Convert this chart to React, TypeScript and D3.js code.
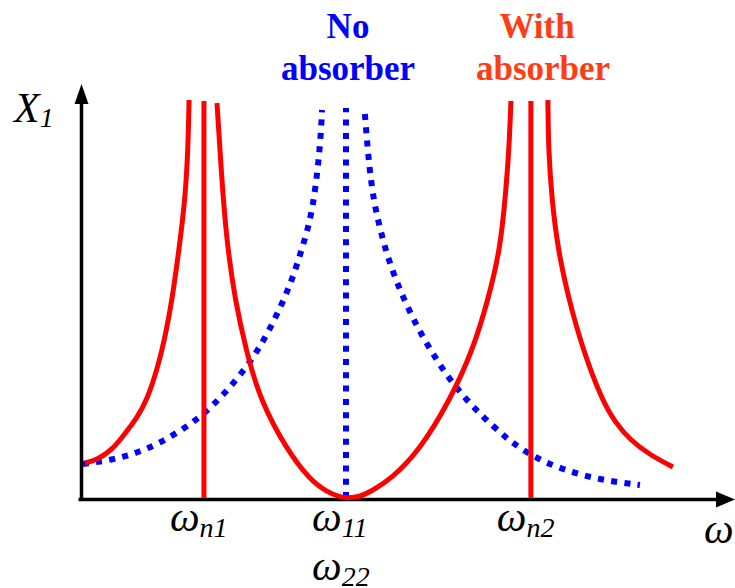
import React from 'react';
import * as d3 from 'd3';

// frequency ratio (omega / omega_11) and amplitude X1
const redLeft: [number, number][] = [
  [0.019, 0.875], [0.064, 0.95], [0.12, 1.2], [0.165, 1.575], [0.214, 2.0],
  [0.252, 2.45], [0.293, 3.275], [0.323, 4.125], [0.346, 4.95], [0.372, 6.2],
  [0.395, 7.45], [0.406, 8.7], [0.41, 9.95],
];
const redMiddle: [number, number][] = [
  [0.515, 9.875], [0.538, 7.45], [0.556, 6.2], [0.583, 4.95], [0.624, 3.7],
  [0.677, 2.45], [0.778, 1.2], [0.865, 0.45], [0.929, 0.15], [0.977, 0.025],
  [1.004, 0], [1.053, 0.025], [1.102, 0.2], [1.165, 0.45], [1.278, 1.2],
  [1.391, 2.45], [1.477, 3.7], [1.534, 4.95], [1.579, 6.2], [1.598, 7.45],
  [1.613, 8.7], [1.62, 9.925],
];
const redRight: [number, number][] = [
  [1.759, 9.95], [1.761, 8.7], [1.774, 7.45], [1.797, 6.2], [1.838, 4.95],
  [1.891, 3.7], [1.962, 2.45], [2.011, 1.9], [2.068, 1.45], [2.143, 1.075],
  [2.229, 0.775],
];
const blueLeft: [number, number][] = [
  [0.011, 0.85], [0.12, 0.95], [0.214, 1.125], [0.301, 1.375], [0.395, 1.75],
  [0.47, 2.125], [0.538, 2.575], [0.609, 3.125], [0.665, 3.65], [0.714, 4.225],
  [0.759, 4.85], [0.797, 5.45], [0.827, 6.075], [0.857, 6.725], [0.88, 7.45],
  [0.902, 8.7], [0.91, 9.7],
];
const blueRight: [number, number][] = [
  [1.071, 9.6], [1.083, 8.6], [1.094, 7.925], [1.109, 7.275], [1.132, 6.625],
  [1.158, 6.0], [1.192, 5.375], [1.233, 4.75], [1.278, 4.15], [1.327, 3.6],
  [1.383, 3.025], [1.447, 2.5], [1.515, 2.025], [1.59, 1.575], [1.628, 1.375],
  [1.692, 1.075], [1.805, 0.725], [1.955, 0.45], [2.105, 0.325],
];
// vertical asymptotes: [omega, top]
const redPeaks: [number, number][] = [[0.466, 9.925], [1.695, 9.925]];
const bluePeaks: [number, number][] = [[1.0, 9.75]];

const tickLabels = [
  { w: 0.466, main: 'ω', sub: 'n1' },
  { w: 1.0, main: 'ω', sub: '11' },
  { w: 1.695, main: 'ω', sub: 'n2' },
];

const W = 735;
const H = 588;
const serif = "'Liberation Serif', 'DejaVu Serif', serif";

export default function App() {
  const x = d3.scaleLinear().domain([0, 1]).range([80, 346]);
  const y = d3.scaleLinear().domain([0, 10]).range([498, 98]);

  const line = d3.line<[number, number]>()
    .x(d => x(d[0]))
    .y(d => y(d[1]))
    .curve(d3.curveBasis);
  const straight = d3.line<[number, number]>()
    .x(d => x(d[0]))
    .y(d => y(d[1]));

  const ox = 81.5;
  const oy = 499.5;

  const red = { fill: 'none', stroke: '#ff0000', strokeWidth: 5 };
  const blue = { fill: 'none', stroke: '#0000ff', strokeWidth: 6, strokeDasharray: '6 7.3' };
  const italic = { fontFamily: serif, fontStyle: 'italic' as const };

  return (
    <svg width={W} height={H} style={{ position: 'absolute', left: 0, top: 0 }}>
      <rect width={W} height={H} fill="#fff" />

      {/* axes */}
      <line x1={ox} y1={oy + 1.5} x2={ox} y2={100} stroke="#000" strokeWidth={3.5} />
      <path d={`M${ox},84 L${ox - 7},104 L${ox + 7},104 Z`} fill="#000" />
      <line x1={ox - 3} y1={oy} x2={718} y2={oy} stroke="#000" strokeWidth={3.5} />
      <path d={`M735,${oy} L716,${oy - 8} L716,${oy + 8} Z`} fill="#000" />

      {/* without absorber */}
      <path d={line(blueLeft) || ''} {...blue} />
      <path d={line(blueRight) || ''} {...blue} />
      {bluePeaks.map((p, i) => (
        <path key={i} d={straight([[p[0], 0], p]) || ''} {...blue} />
      ))}

      {/* with absorber */}
      <path d={line(redLeft) || ''} {...red} />
      <path d={line(redMiddle) || ''} {...red} />
      <path d={line(redRight) || ''} {...red} />
      {redPeaks.map((p, i) => (
        <path key={i} d={straight([[p[0], 0], p]) || ''} {...red} />
      ))}

      {/* axis labels */}
      <text x={14} y={122} style={{ ...italic, fontSize: 42 }}>
        X<tspan dy={5} style={{ fontSize: 28 }}>1</tspan>
      </text>
      {tickLabels.map(t => (
        <text key={t.sub} x={x(t.w) - 34} y={531} style={{ ...italic, fontSize: 42 }}>
          {t.main}<tspan dy={6} style={{ fontSize: 28 }}>{t.sub}</tspan>
        </text>
      ))}
      <text x={x(1.0) - 34} y={580} style={{ ...italic, fontSize: 42 }}>
        ω<tspan dy={6} style={{ fontSize: 28 }}>22</tspan>
      </text>
      <text x={704} y={543} style={{ ...italic, fontSize: 42 }}>ω</text>

      {/* titles */}
      <g style={{ fontFamily: serif, fontWeight: 'bold', fontSize: 35 }} textAnchor="middle">
        <text x={348} y={38} fill="#0000ff">No</text>
        <text x={348} y={80} fill="#0000ff">absorber</text>
        <text x={537} y={38} fill="#ff3d14">With</text>
        <text x={543} y={80} fill="#ff3d14">absorber</text>
      </g>
    </svg>
  );
}
